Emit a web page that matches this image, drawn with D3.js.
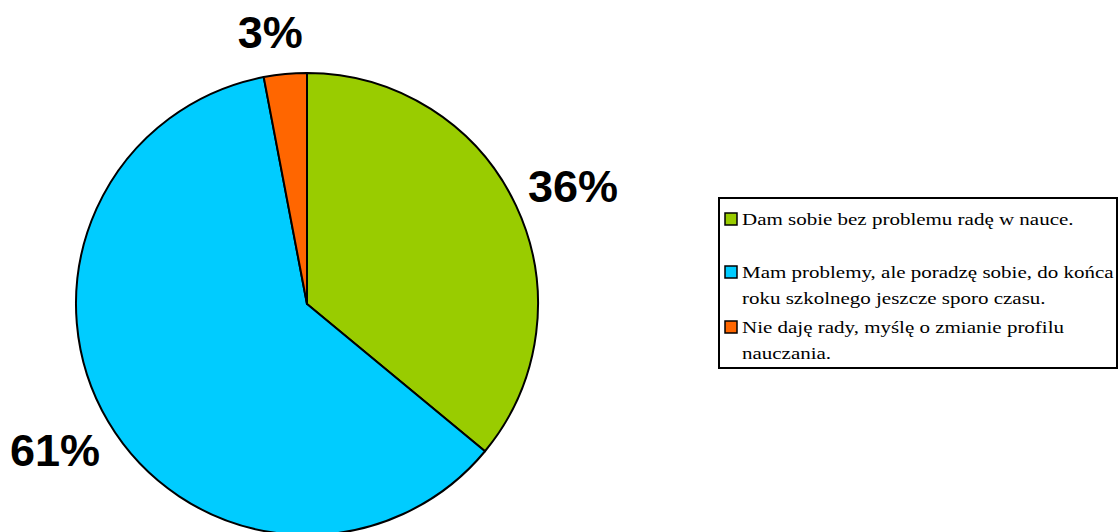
<!DOCTYPE html>
<html>
<head>
<meta charset="utf-8">
<script src="https://cdn.jsdelivr.net/npm/d3@7"></script>
<style>
  body { margin: 0; background: #fff; }
  svg { display: block; }
</style>
</head>
<body>
<svg id="chart" width="1119" height="532"></svg>
<script>
var categories = [
  'Dam sobie bez problemu radę w nauce.',
  'Mam problemy, ale poradzę sobie, do końca|roku szkolnego jeszcze sporo czasu.',
  'Nie daję rady, myślę o zmianie profilu|nauczania.'
];
var values = [36, 61, 3];
var labels = ['36%', '61%', '3%'];
var colors = ['#99cc00', '#00ccff', '#ff6600'];

var svg = d3.select('#chart');
var cx = 307, cy = 304, r = 231;

var pie = d3.pie().sort(null).value(function(d) { return d; });
var arcs = pie(values);
var arc = d3.arc().innerRadius(0).outerRadius(r);
var labelArc = d3.arc().innerRadius(r + 42).outerRadius(r + 42);

var g = svg.append('g').attr('transform', 'translate(' + cx + ',' + cy + ')');

g.selectAll('path')
  .data(arcs)
  .enter().append('path')
  .attr('d', arc)
  .attr('fill', function(d, i) { return colors[i]; })
  .attr('stroke', '#000')
  .attr('stroke-width', 2)
  .attr('stroke-linejoin', 'round');

// label positions nudged like the original
var labelShift = [[19, -1], [-17, 8], [-11, 0]];
g.selectAll('text.pct')
  .data(arcs)
  .enter().append('text')
  .attr('class', 'pct')
  .attr('x', function(d, i) { return labelArc.centroid(d)[0] + labelShift[i][0]; })
  .attr('y', function(d, i) { return labelArc.centroid(d)[1] + labelShift[i][1]; })
  .attr('text-anchor', 'middle')
  .attr('dominant-baseline', 'central')
  .style('font-family', '"Liberation Sans", Arial, sans-serif')
  .style('font-weight', 'bold')
  .style('font-size', '45px')
  .text(function(d, i) { return labels[i]; });

// legend
var lg = svg.append('g');
lg.append('rect')
  .attr('x', 719).attr('y', 198)
  .attr('width', 398).attr('height', 170)
  .attr('fill', '#fff')
  .attr('stroke', '#000')
  .attr('stroke-width', 2);

var rowY = [225, 278, 333];
categories.forEach(function(c, i) {
  var lines = c.split('|');
  lg.append('rect')
    .attr('x', 725).attr('y', rowY[i] - 12)
    .attr('width', 12).attr('height', 12)
    .attr('fill', colors[i])
    .attr('stroke', '#000')
    .attr('stroke-width', 1.5);
  lines.forEach(function(t, j) {
    lg.append('text')
      .attr('transform', 'translate(742,' + (rowY[i] + j * 25.5) + ') scale(1.2,1)')
      .style('font-family', '"Liberation Serif", "Times New Roman", serif')
      .style('font-size', '17.5px')
      .text(t);
  });
});
</script>
</body>
</html>
